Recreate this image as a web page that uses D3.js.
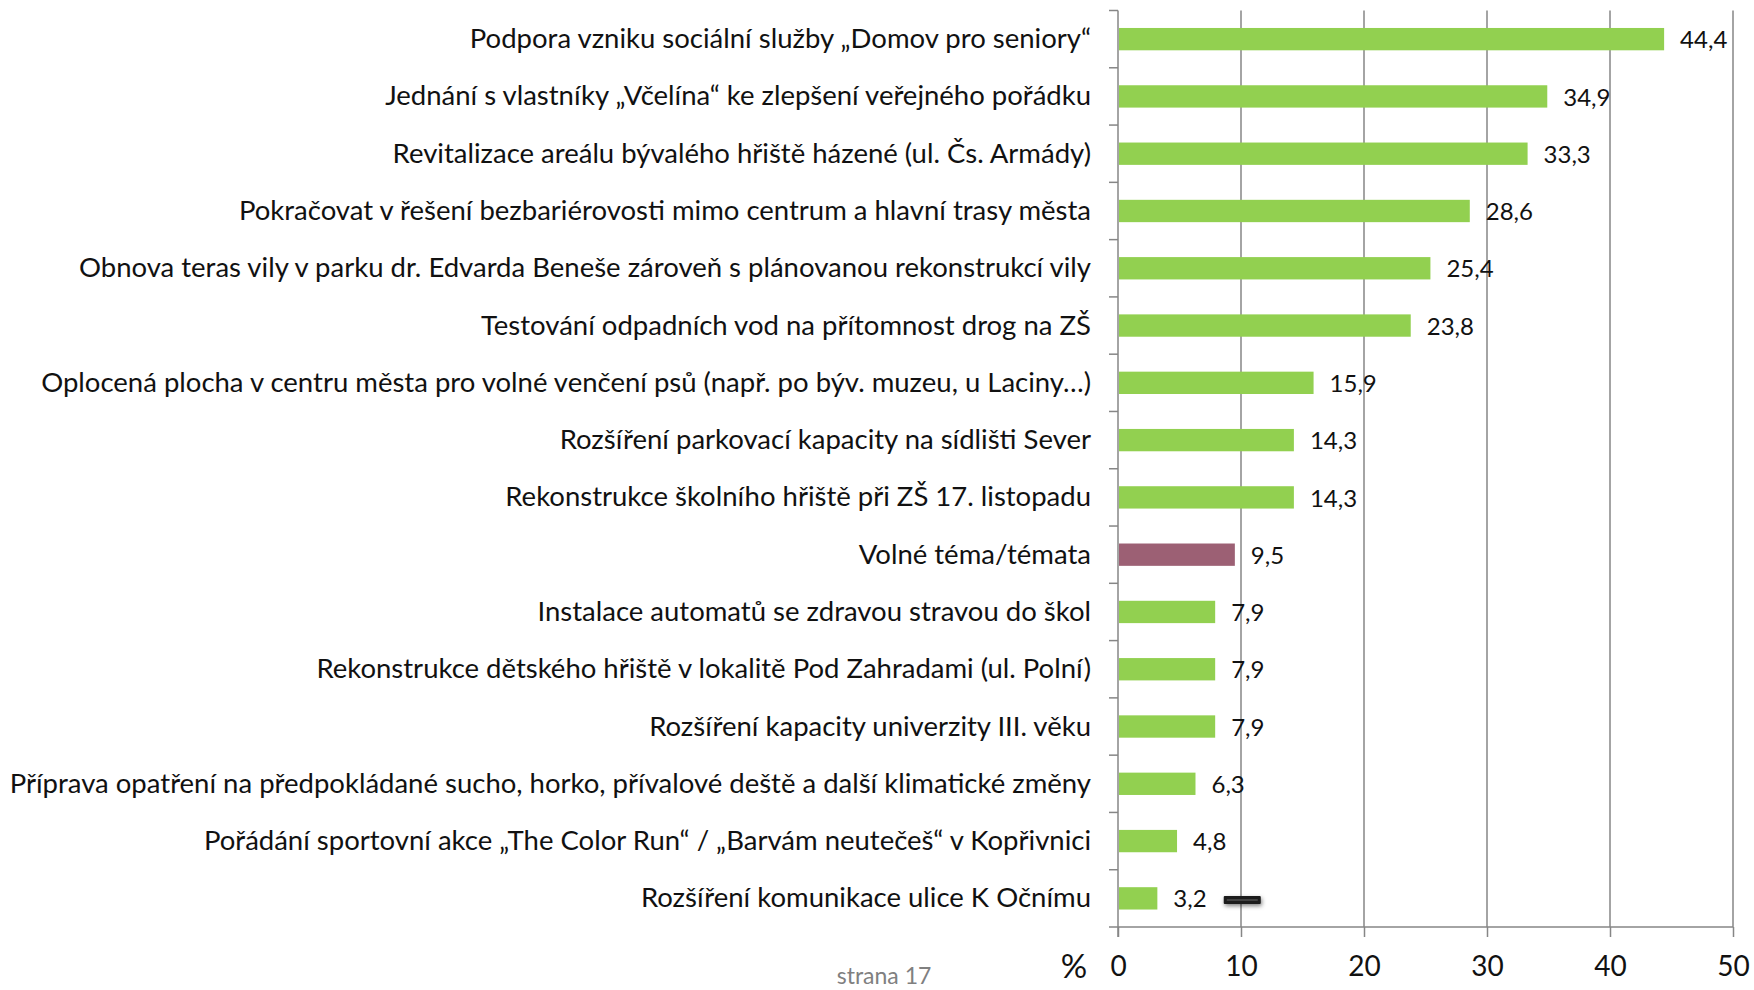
<!DOCTYPE html>
<html>
<head>
<meta charset="utf-8">
<script src="https://cdn.jsdelivr.net/npm/d3@7"></script>
<style>
    body { margin: 0; background: #fff; }
    svg { display: block; font-family: Lato, "Open Sans", sans-serif; }
</style>
</head>
<body>
<svg id="chart" width="1754" height="990"></svg>
<script>
// data
const categories = [
    "Podpora vzniku sociální služby „Domov pro seniory“",
    "Jednání s vlastníky „Včelína“ ke zlepšení veřejného pořádku",
    "Revitalizace areálu bývalého hřiště házené (ul. Čs. Armády)",
    "Pokračovat v řešení bezbariérovosti mimo centrum a hlavní trasy města",
    "Obnova teras vily v parku dr. Edvarda Beneše zároveň s plánovanou rekonstrukcí vily",
    "Testování odpadních vod na přítomnost drog na ZŠ",
    "Oplocená plocha v centru města pro volné venčení psů (např. po býv. muzeu, u Laciny…)",
    "Rozšíření parkovací kapacity na sídlišti Sever",
    "Rekonstrukce školního hřiště při ZŠ 17. listopadu",
    "Volné téma/témata",
    "Instalace automatů se zdravou stravou do škol",
    "Rekonstrukce dětského hřiště v lokalitě Pod Zahradami (ul. Polní)",
    "Rozšíření kapacity univerzity III. věku",
    "Příprava opatření na předpokládané sucho, horko, přívalové deště a další klimatické změny",
    "Pořádání sportovní akce „The Color Run“  / „Barvám neutečeš“ v Kopřivnici",
    "Rozšíření komunikace ulice K Očnímu"
];
const values = [44.4, 34.9, 33.3, 28.6, 25.4, 23.8, 15.9, 14.3, 14.3, 9.5, 7.9, 7.9, 7.9, 6.3, 4.8, 3.2];
const highlighted = ["Volné téma/témata"];
const xTicks = [0, 10, 20, 30, 40, 50];

const svg = d3.select("#chart");

const x = d3.scaleLinear().domain([0, 50]).range([1118, 1733]);
const y = d3.scaleBand().domain(categories).range([10.5, 927]).paddingInner(0.61).paddingOuter(0.305);
const step = y.step();

// vertical gridlines
svg.append("g")
    .selectAll("line")
    .data(xTicks.slice(1))
    .join("line")
    .attr("x1", (d) => x(d))
    .attr("x2", (d) => x(d))
    .attr("y1", 10.5)
    .attr("y2", 927)
    .attr("stroke", "#868686")
    .attr("stroke-width", 1.5);

// bars
svg.append("g")
    .selectAll("rect")
    .data(categories)
    .join("rect")
    .attr("x", x(0) + 1)
    .attr("y", (d) => y(d))
    .attr("width", (d, i) => x(values[i]) - x(0) - 1)
    .attr("height", y.bandwidth())
    .attr("fill", (d) => (highlighted.includes(d) ? "#9c6074" : "#92d050"));

// value labels
svg.append("g")
    .selectAll("text")
    .data(categories)
    .join("text")
    .attr("x", (d, i) => x(values[i]) + 16)
    .attr("y", (d) => y(d) + y.bandwidth() / 2)
    .attr("dy", "0.38em")
    .attr("font-size", 24)
    .attr("fill", "#111")
    .text((d, i) => String(values[i]).replace(".", ","));

// x axis
const xAxis = svg.append("g")
    .attr("transform", "translate(0,927)")
    .call(d3.axisBottom(x).tickValues(xTicks).tickSize(10).tickPadding(19));
xAxis.select(".domain").attr("stroke", "#868686").attr("stroke-width", 1.5).attr("d", "M1109,0H1733");
xAxis.selectAll(".tick line").attr("stroke", "#868686").attr("stroke-width", 1.5);
xAxis.selectAll(".tick text").attr("font-size", 28).attr("font-family", "Lato, sans-serif").attr("fill", "#111");

// y axis with ticks between categories
const yAxis = svg.append("g").attr("transform", `translate(${x(0)},0)`);
yAxis.append("line")
    .attr("y1", 10.5)
    .attr("y2", 937)
    .attr("stroke", "#868686")
    .attr("stroke-width", 1.5);
yAxis.selectAll("line.tk")
    .data(categories)
    .join("line")
    .attr("class", "tk")
    .attr("x1", -9)
    .attr("x2", 0)
    .attr("y1", (d) => y(d) - step * 0.305)
    .attr("y2", (d) => y(d) - step * 0.305)
    .attr("stroke", "#868686")
    .attr("stroke-width", 1.5);

// category labels
svg.append("g")
    .selectAll("text")
    .data(categories)
    .join("text")
    .attr("x", 1091)
    .attr("y", (d) => y(d) + y.bandwidth() / 2)
    .attr("dy", "0.33em")
    .attr("text-anchor", "end")
    .attr("font-size", 27.5)
    .attr("fill", "#111")
    .text((d) => d);

// unit label and page number
svg.append("text")
    .attr("x", 1074)
    .attr("y", 978)
    .attr("text-anchor", "middle")
    .attr("font-size", 33)
    .attr("fill", "#111")
    .text("%");

svg.append("text")
    .attr("x", 884)
    .attr("y", 984)
    .attr("text-anchor", "middle")
    .attr("font-size", 23)
    .attr("fill", "#808080")
    .text("strana 17");

// small leftover legend marker near the last bar
const defs = svg.append("defs");
const f = defs.append("filter").attr("id", "shadow").attr("x", "-30%").attr("y", "-80%").attr("width", "160%").attr("height", "300%");
f.append("feDropShadow").attr("dx", 1).attr("dy", 2).attr("stdDeviation", 2).attr("flood-opacity", 0.5);
svg.append("rect")
    .attr("x", x(8.6))
    .attr("y", 896)
    .attr("width", 37)
    .attr("height", 8)
    .attr("rx", 1)
    .attr("fill", "#1a1a1a")
    .attr("filter", "url(#shadow)");
svg.append("line")
    .attr("x1", x(8.6) + 3)
    .attr("x2", x(8.6) + 34)
    .attr("y1", 900)
    .attr("y2", 900)
    .attr("stroke", "#666")
    .attr("stroke-width", 1);
</script>
</body>
</html>
